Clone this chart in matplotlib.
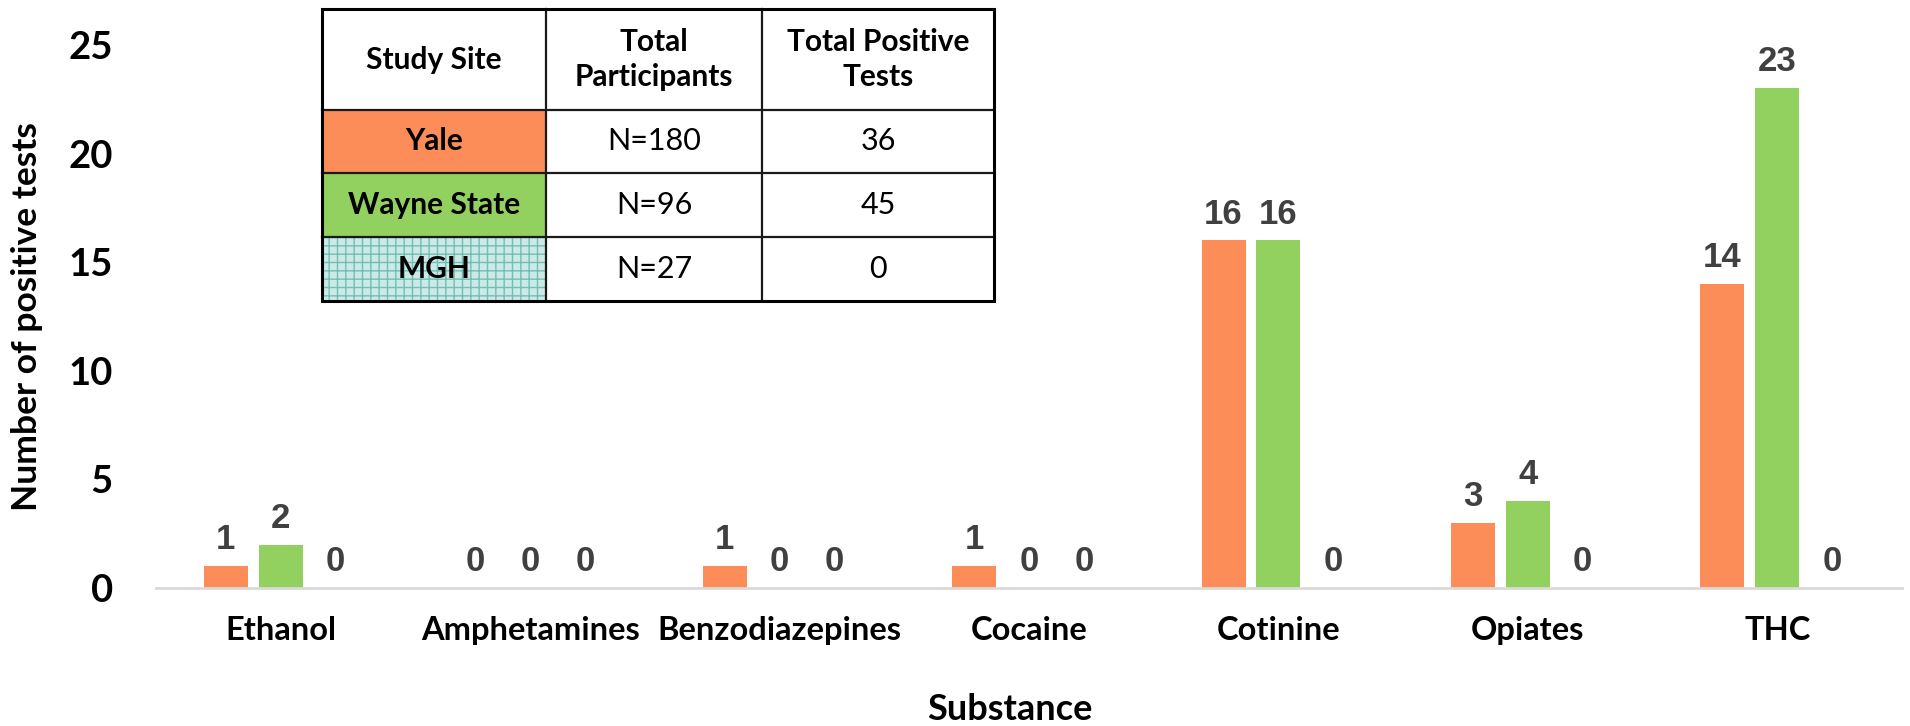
import matplotlib
matplotlib.use("Agg")
import matplotlib.pyplot as plt
from matplotlib.patches import Rectangle
import numpy as np

# ---------------- data ----------------
substances = ["Ethanol", "Amphetamines", "Benzodiazepines", "Cocaine",
              "Cotinine", "Opiates", "THC"]
yale = [1, 0, 1, 1, 16, 3, 14]
wayne = [2, 0, 0, 0, 16, 4, 23]
mgh = [0, 0, 0, 0, 0, 0, 0]
yticks = [0, 5, 10, 15, 20, 25]

table_header = ["Study Site", "Total\nParticipants", "Total Positive\nTests"]
table_sites = ["Yale", "Wayne State", "MGH"]
table_participants = ["N=180", "N=96", "N=27"]
table_positive = ["36", "45", "0"]

# ---------------- style ----------------
ORANGE = "#fc8d59"
GREEN = "#92d060"
LABEL_GRAY = "#404040"
FONT = "Lato"

W, H = 1910, 726
fig = plt.figure(figsize=(W / 100, H / 100), dpi=100)

ax_l, ax_r, ax_t, ax_b = 156, 1902, 45, 588
ax = fig.add_axes([ax_l / W, 1 - ax_b / H, (ax_r - ax_l) / W, (ax_b - ax_t) / H])

x = np.arange(len(substances))
step = 0.22
bw = 0.176
series = [(yale, ORANGE), (wayne, GREEN), (mgh, "none")]
for i, (vals, col) in enumerate(series):
    pos = x + (i - 1) * step
    ax.bar(pos, vals, width=bw, color=col, edgecolor="none", zorder=2)
    for px, v in zip(pos, vals):
        ax.annotate(str(v), xy=(px, v), xytext=(0, 12.2), textcoords="offset points",
                    ha="center", va="baseline", fontsize=25, fontweight="bold",
                    color=LABEL_GRAY, family="Liberation Sans")

ax.set_xlim(-0.5, 6.5)
ax.set_ylim(0, 25)
for s in ["top", "right", "left"]:
    ax.spines[s].set_visible(False)
ax.spines["bottom"].set_color("#d9d9d9")
ax.spines["bottom"].set_linewidth(2)
ax.set_yticks(yticks)
ax.set_yticklabels([str(t) for t in yticks], fontsize=27.5, fontweight="bold",
                   family=FONT)
ax.set_xticks(x)
ax.set_xticklabels(substances, fontsize=23.5, fontweight="bold", family=FONT)
ax.tick_params(axis="y", length=0, pad=31)
ax.tick_params(axis="x", length=0, pad=20)

fig.text(27 / W, 1 - 317 / H, "Number of positive tests", rotation=90,
         ha="center", va="center", fontsize=25.5, fontweight="bold", family=FONT)
fig.text(1010 / W, 1 - 710 / H, "Substance", ha="center", va="center",
         fontsize=26, fontweight="bold", family=FONT)

# ---------------- inset table ----------------
def fx(px):
    return px / W

def fy(py):
    return 1 - py / H

col_edges = [322, 546, 762, 994]
row_edges = [9, 110, 173, 237, 301]
site_fill = [ORANGE, GREEN, None]

plt.rcParams["hatch.color"] = "#6fbfb7"
plt.rcParams["hatch.linewidth"] = 1.0
for r in range(3):
    y0, y1 = row_edges[r + 1], row_edges[r + 2]
    x0, x1 = col_edges[0], col_edges[1]
    if site_fill[r] is not None:
        fig.patches.append(Rectangle((fx(x0), fy(y1)), fx(x1) - fx(x0), fy(y0) - fy(y1),
                                     transform=fig.transFigure, facecolor=site_fill[r],
                                     edgecolor="none", zorder=1))
    else:
        fig.patches.append(Rectangle((fx(x0), fy(y1)), fx(x1) - fx(x0), fy(y0) - fy(y1),
                                     transform=fig.transFigure, facecolor="#cde9e6",
                                     edgecolor="#6fbfb7", hatch="++", linewidth=0,
                                     zorder=1))

for cx in col_edges[1:-1]:
    fig.add_artist(plt.Line2D([fx(cx), fx(cx)], [fy(row_edges[0]), fy(row_edges[-1])],
                              transform=fig.transFigure, color="#1a1a1a", lw=1.6, zorder=3))
for ry in row_edges[1:-1]:
    fig.add_artist(plt.Line2D([fx(col_edges[0]), fx(col_edges[-1])], [fy(ry), fy(ry)],
                              transform=fig.transFigure, color="#1a1a1a", lw=1.6, zorder=3))
fig.patches.append(Rectangle((fx(col_edges[0]), fy(row_edges[-1])),
                             fx(col_edges[-1]) - fx(col_edges[0]),
                             fy(row_edges[0]) - fy(row_edges[-1]),
                             transform=fig.transFigure, facecolor="none",
                             edgecolor="black", linewidth=2.2, zorder=4))

col_c = [(col_edges[i] + col_edges[i + 1]) / 2 for i in range(3)]
row_c = [(row_edges[i] + row_edges[i + 1]) / 2 for i in range(4)]
for j, txt in enumerate(table_header):
    fig.text(fx(col_c[j]), fy(row_c[0]), txt, ha="center", va="center",
             fontsize=21.5, fontweight="bold", family=FONT, linespacing=1.3, zorder=5)
for r in range(3):
    fig.text(fx(col_c[0]), fy(row_c[r + 1]), table_sites[r], ha="center", va="center",
             fontsize=21.5, fontweight="bold", family=FONT, zorder=5)
    fig.text(fx(col_c[1]), fy(row_c[r + 1]), table_participants[r], ha="center",
             va="center", fontsize=22, family=FONT, zorder=5)
    fig.text(fx(col_c[2]), fy(row_c[r + 1]), table_positive[r], ha="center",
             va="center", fontsize=22, family=FONT, zorder=5)

fig.savefig("out.png", dpi=100, facecolor="white")
